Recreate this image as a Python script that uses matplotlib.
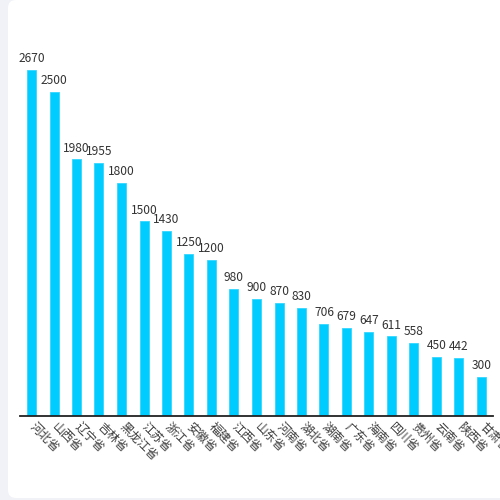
import matplotlib
matplotlib.use("Agg")
import matplotlib.pyplot as plt
from matplotlib.patches import FancyBboxPatch

plt.rcParams['font.family'] = ['Noto Sans CJK SC', 'DejaVu Sans']

provinces = ["河北省", "山西省", "辽宁省", "吉林省", "黑龙江省", "江苏省", "浙江省",
             "安徽省", "福建省", "江西省", "山东省", "河南省", "湖北省", "湖南省",
             "广东省", "海南省", "四川省", "贵州省", "云南省", "陕西省", "甘肃省"]
values = [2670, 2500, 1980, 1955, 1800, 1500, 1430, 1250, 1200, 980, 900, 870,
          830, 706, 679, 647, 611, 558, 450, 442, 300]

W = H = 500
fig = plt.figure(figsize=(5, 5), dpi=100)
fig.patch.set_facecolor("#f1f2f7")

card = FancyBboxPatch((8 / W, 2 / H), (W + 20 - 8) / W, 498 / H,
                      boxstyle="round,pad=0,rounding_size=0.016",
                      transform=fig.transFigure, facecolor="white",
                      edgecolor="none", zorder=-1)
fig.patches.append(card)

left, right = 20.25, 492.75
bottom, top = 415.5, 27.5
ax = fig.add_axes([left / W, 1 - bottom / H, (right - left) / W, (bottom - top) / H])
ax.set_facecolor("none")
ax.set_zorder(1)

x = list(range(len(provinces)))
ax.bar(x, values, width=0.4, color="#00ccff", edgecolor="#33d6ff", linewidth=0.6, zorder=2)
ax.set_xlim(-0.5, len(provinces) - 0.5)
ax.set_ylim(0, 3000)

for xi, v in zip(x, values):
    ax.annotate(str(v), (xi, v), xytext=(0, 3.5), textcoords="offset points",
                ha="center", va="bottom", fontsize=8.6, color="#333333")

for s in ["top", "right", "left"]:
    ax.spines[s].set_visible(False)
ax.spines["bottom"].set_color("#222222")
ax.spines["bottom"].set_linewidth(1.3)
ax.set_yticks([])
ax.set_xticks(x)
ax.set_xticklabels(provinces, rotation=-45, ha="left", va="center",
                   rotation_mode="anchor", fontsize=8.6, color="#3a3a3a")
ax.tick_params(axis="x", length=0, pad=6.5)
for lbl in ax.get_xticklabels():
    lbl.set_clip_on(False)

fig.savefig("out.png", dpi=100)
